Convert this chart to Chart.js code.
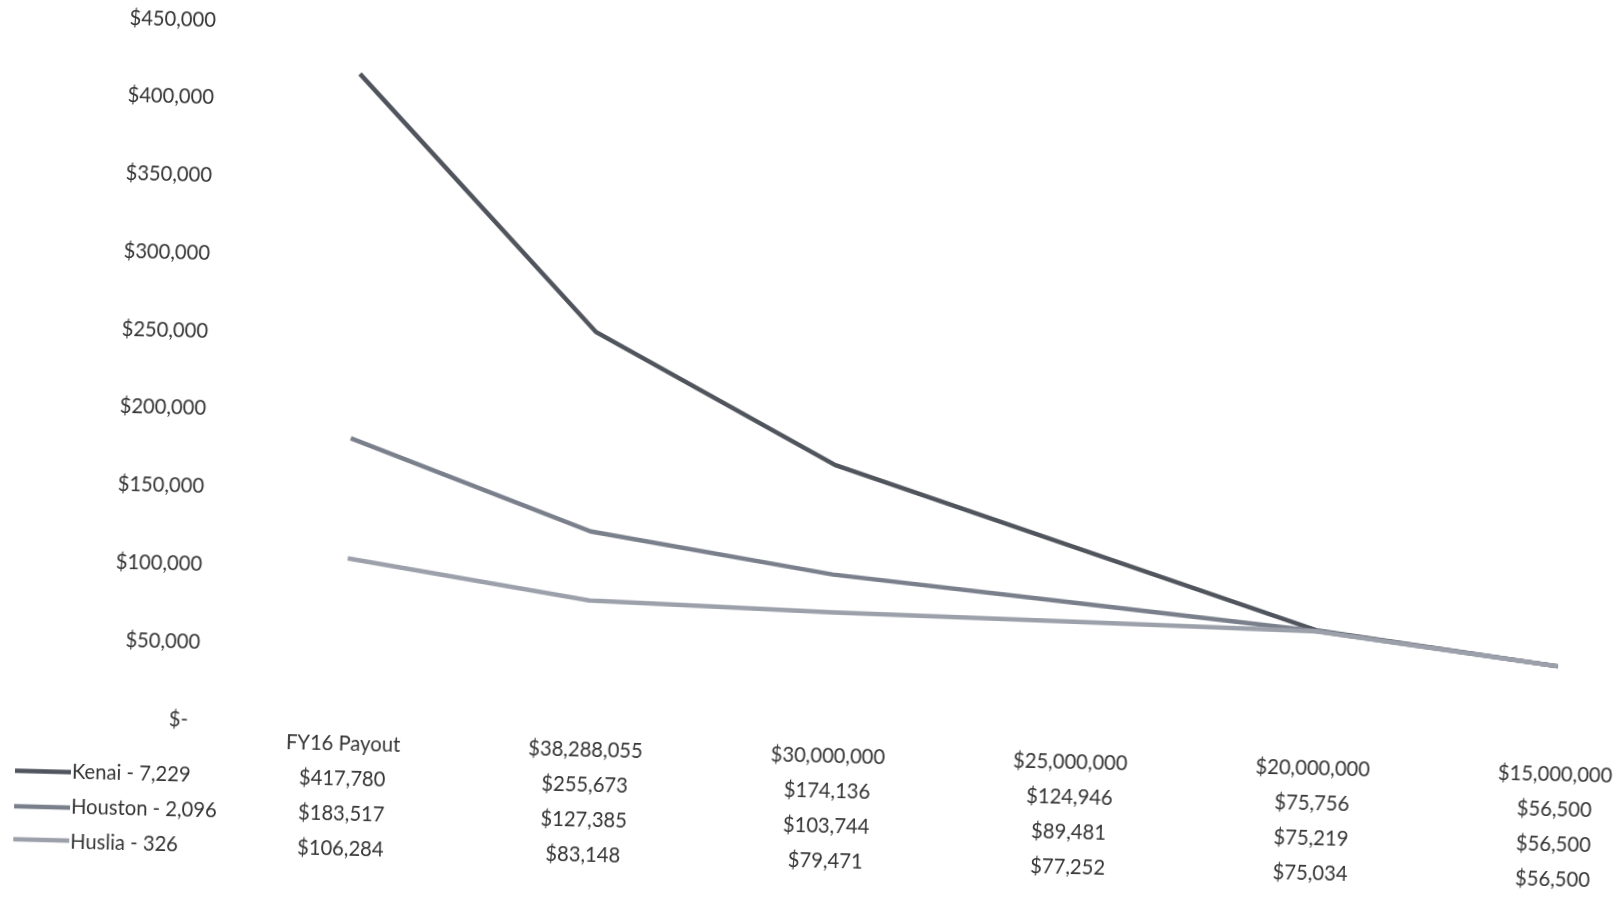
<!DOCTYPE html>
<html>
<head>
<meta charset="utf-8">
<script src="https://cdn.jsdelivr.net/npm/chart.js@4.4.1/dist/chart.umd.min.js"></script>
<style>
  html, body { margin: 0; padding: 0; background: #ffffff; overflow: hidden; }
  body { width: 1623px; height: 898px; position: relative; }
  /* the source is a slightly skewed scan, so the whole chart is tilted a little */
  #wrap {
    position: absolute;
    left: -60px;
    top: -60px;
    width: 1799px;
    height: 1050px;
    transform: rotate(1.45deg);
    transform-origin: 50% 50%;
  }
</style>
</head>
<body>
<div id="wrap"><canvas id="chart" width="1799" height="1050"></canvas></div>
<script>
// --- Data ---
const categories = ["FY16 Payout", "$38,288,055", "$30,000,000", "$25,000,000", "$20,000,000", "$15,000,000"];
const kenai = [417780, 255673, 174136, 124946, 75756, 56500];
const houston = [183517, 127385, 103744, 89481, 75219, 56500];
const huslia = [106284, 83148, 79471, 77252, 75034, 56500];
const seriesNames = ["Kenai - 7,229", "Houston - 2,096", "Huslia - 326"];
const yTicks = [0, 50000, 100000, 150000, 200000, 250000, 300000, 350000, 400000, 450000];

// --- Style ---
const FONT = "Lato, 'Noto Sans', sans-serif";
const FONT_SIZE = 20.2;
const LINE_H = 35;
const TEXT_COLOR = "#353535";
const colors = ["#50545c", "#7a7f8c", "#9ca0aa"];

const money = (v) => "$" + v.toLocaleString("en-US");

// legend drawn as the first column of the data table under the x axis
const tableLegend = {
  id: "tableLegend",
  afterDraw(chart) {
    const { ctx } = chart;
    const x = chart.scales.x;
    const items = x.getLabelItems(chart.chartArea);
    if (!items.length) return;
    const opts = items[0].options;
    const y0 = opts.translation[1] + items[0].textOffset;
    ctx.save();
    ctx.font = FONT_SIZE + "px " + FONT;
    ctx.textBaseline = opts.textBaseline;
    ctx.textAlign = "left";
    ctx.fillStyle = TEXT_COLOR;
    seriesNames.forEach((name, i) => {
      const y = y0 + (i + 1) * LINE_H;
      const m = ctx.measureText(name);
      const mid = y + (m.actualBoundingBoxDescent - m.actualBoundingBoxAscent) / 2;
      ctx.strokeStyle = colors[i];
      ctx.lineWidth = 4.5;
      ctx.beginPath();
      ctx.moveTo(83, mid);
      ctx.lineTo(139, mid);
      ctx.stroke();
      ctx.fillText(name, 140, y);
    });
    ctx.restore();
  },
};

const ctx = document.getElementById("chart");
const chart = new Chart(ctx, {
  type: "line",
  data: {
    labels: categories,
    datasets: [
      { label: seriesNames[0], data: kenai, borderColor: colors[0], order: 2 },
      { label: seriesNames[1], data: houston, borderColor: colors[1], order: 1 },
      { label: seriesNames[2], data: huslia, borderColor: colors[2], order: 0 },
    ],
  },
  options: {
    responsive: false,
    animation: false,
    layout: { padding: { top: 96, right: 55, bottom: 0, left: 0 } },
    elements: {
      line: { borderWidth: 4.5, tension: 0, fill: false },
      point: { radius: 0, hoverRadius: 0 },
    },
    plugins: {
      legend: { display: false },
      tooltip: { enabled: false },
      title: { display: false },
    },
    scales: {
      x: {
        offset: true,
        border: { display: false },
        grid: { display: false, drawTicks: false },
        afterFit: (s) => { s.height = 254; },
        ticks: {
          padding: 3,
          maxRotation: 0,
          autoSkip: false,
          color: TEXT_COLOR,
          font: { family: FONT, size: FONT_SIZE, lineHeight: LINE_H + "px" },
          callback: (v, i) => [categories[i], money(kenai[i]), money(houston[i]), money(huslia[i])],
        },
      },
      y: {
        min: 0,
        max: 450000,
        border: { display: false },
        grid: { display: false, drawTicks: false },
        afterFit: (s) => { s.width = 289; },
        afterBuildTicks: (s) => { s.ticks = yTicks.map((v) => ({ value: v })); },
        ticks: {
          padding: 24,
          color: TEXT_COLOR,
          font: { family: FONT, size: FONT_SIZE },
          callback: (v) => (v === 0 ? "$-  " : money(v)),
        },
      },
    },
  },
  plugins: [tableLegend],
});
</script>
</body>
</html>
